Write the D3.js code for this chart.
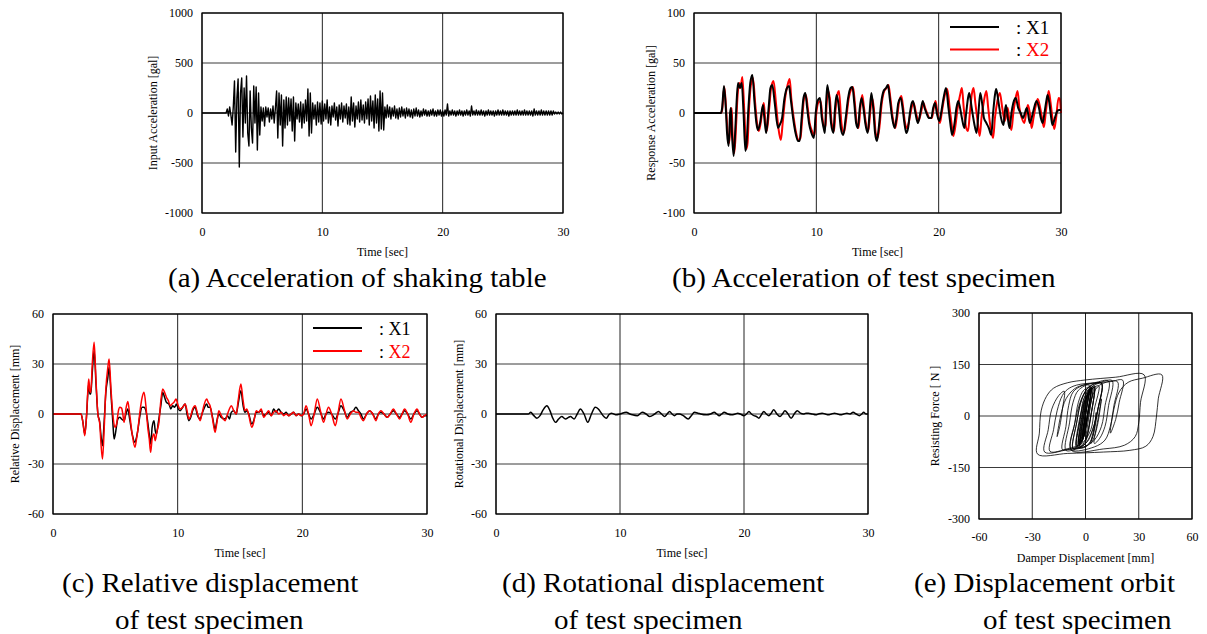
<!DOCTYPE html>
<html>
<head>
<meta charset="utf-8">
<script src="https://cdn.jsdelivr.net/npm/d3@7"></script>
<style>
body { margin: 0; background: #fff; }
svg { display: block; font-family: "Liberation Serif", "Times New Roman", serif; }
</style>
</head>
<body>
<svg id="fig" width="1207" height="634"></svg>
<script>
// (a) input acceleration [gal], sampled every 0.1 s from 2.0 s
const inputAccStart = 2.0;
const inputAccStep = 0.1;
const inputAcc = [
  0, 40, -30, 60, -20, -120, 60, 320, -390, 150,
  340, -540, 200, 350, -240, 250, -100, 370, -200, -330,
  220, -150, -300, 270, -100, 260, -370, 200, -220, 60,
  -80, 50, -130, 60, -40, 50, -90, 40, -60, 70,
  -100, 50, 220, -250, 200, -120, 180, -330, 130, -150,
  160, -120, 150, -80, 140, -180, 160, -280, 100, -60,
  90, -90, 110, -150, 90, -100, 130, -80, 240, -230,
  200, -200, 100, -60, 80, -120, 110, -90, 100, -110,
  120, -80, 90, -60, 130, -100, 60, -120, 70, -40,
  100, -70, 60, -130, 80, -60, 100, -90, 70, -50,
  90, -110, 60, -120, 160, -80, 100, -140, 70, -60,
  110, -90, 130, -70, 80, -100, 110, -60, 140, -120,
  170, -80, 120, -150, 180, -100, 140, -180, 220, -160,
  200, -170, 60, -50, 80, -40, 60, -60, 50, -30,
  70, -50, 40, -60, 50, -40, 60, -30, 40, -50,
  50, -30, 40, -40, 30, -50, 40, -30, 50, -30,
  30, -40, 20, -30, 40, -20, 30, -30, 20, -30,
  30, -20, 40, -30, 20, -30, 30, -20, 30, -30,
  20, -30, 30, -20, 90, -30, 20, -20, 30, -20,
  20, -30, 20, -20, 30, -20, 20, -30, 20, -20,
  30, -20, 20, -30, 70, -20, 20, -20, 30, -20,
  20, -20, 30, -20, 20, -30, 20, -20, 30, -20,
  20, -20, 20, -30, 20, -20, 30, -20, 20, -20,
  30, -20, 20, -20, 20, -30, 20, -20, 20, -20,
  20, -20, 30, -20, 20, -20, 20, -20, 30, -20,
  20, -20, 20, -20, 20, -30, 40, -20, 20, -20,
  20, -20, 30, -20, 20, -20, 20, -20, 20, -20,
  20, -20, 20, -10, 10, -10, 10, -10, 10, -10,
  0
];

// (b) response acceleration [gal], [time, value]
const respX1 = [[0,0],[2.2,0],[2.3,5],[2.45,27],[2.6,5],[2.7,-20],[2.83,-33],[2.95,0],[3.02,5],[3.1,-20],[3.24,-43],[3.4,-10],[3.5,15],[3.6,30],[3.75,25],[3.9,30],[4.05,0],[4.2,-38],[4.3,-30],[4.45,5],[4.6,30],[4.77,38],[4.95,10],[5.1,-10],[5.23,-17],[5.4,-10],[5.64,8],[5.75,-5],[5.9,-20],[6.1,5],[6.25,25],[6.4,28],[6.6,10],[6.87,-15],[7.0,-12],[7.2,-5],[7.4,15],[7.6,25],[7.77,27],[7.9,15],[8.1,-5],[8.3,-20],[8.5,-28],[8.64,-28],[8.8,-5],[8.95,15],[9.1,20],[9.25,5],[9.4,-10],[9.6,-20],[9.8,-25],[9.95,0],[10.1,12],[10.3,15],[10.45,-5],[10.6,-15],[10.7,-20],[10.8,10],[10.9,28],[11.05,15],[11.2,-10],[11.4,-20],[11.5,0],[11.65,18],[11.8,10],[12.0,-15],[12.2,-22],[12.4,-5],[12.6,15],[12.8,25],[12.95,26],[13.1,10],[13.25,-10],[13.4,-15],[13.55,5],[13.7,15],[13.85,5],[14.0,-10],[14.2,-20],[14.35,0],[14.5,20],[14.65,5],[14.8,-20],[14.95,-28],[15.1,-15],[15.3,10],[15.5,22],[15.7,25],[15.85,28],[16.0,15],[16.2,-5],[16.4,-15],[16.55,-5],[16.7,10],[16.9,15],[17.05,5],[17.2,-10],[17.35,-20],[17.5,-15],[17.65,0],[17.8,10],[17.9,12],[18.1,0],[18.3,-10],[18.5,0],[18.7,12],[18.85,5],[19.0,0],[19.2,-5],[19.4,-5],[19.55,5],[19.7,10],[19.85,0],[20.05,-8],[20.2,0],[20.4,15],[20.6,25],[20.8,5],[20.95,-10],[21.1,-22],[21.3,-10],[21.45,5],[21.6,12],[21.75,5],[21.9,-5],[22.1,-15],[22.25,0],[22.4,15],[22.5,20],[22.7,5],[22.9,-10],[23.1,-20],[23.25,0],[23.4,20],[23.55,10],[23.7,-5],[23.9,-10],[24.1,-15],[24.3,-22],[24.45,0],[24.6,18],[24.7,24],[24.9,10],[25.1,-5],[25.3,-12],[25.4,0],[25.5,8],[25.65,-5],[25.8,-15],[25.95,0],[26.1,10],[26.3,15],[26.5,5],[26.7,0],[26.9,-5],[27.05,0],[27.2,5],[27.3,0],[27.45,-10],[27.6,-5],[27.8,5],[28.0,12],[28.2,5],[28.35,-5],[28.5,-10],[28.65,0],[28.8,12],[28.9,18],[29.05,10],[29.2,-5],[29.3,-12],[29.5,-5],[29.7,2],[29.85,3],[30,3]];
const respX2 = [[0,0],[2.2,0],[2.3,3],[2.48,26],[2.62,5],[2.75,-20],[2.88,-30],[3.0,-5],[3.08,5],[3.15,-20],[3.3,-40],[3.45,-10],[3.55,15],[3.7,30],[3.8,25],[3.95,36],[4.1,5],[4.28,-36],[4.38,-30],[4.5,5],[4.65,28],[4.82,35],[5.0,10],[5.15,-10],[5.3,-18],[5.45,-10],[5.7,10],[5.8,-3],[5.95,-18],[6.15,5],[6.3,25],[6.5,32],[6.7,10],[6.9,-15],[7.1,-27],[7.25,-10],[7.45,15],[7.65,28],[7.82,34],[7.95,15],[8.15,-5],[8.35,-20],[8.55,-27],[8.7,-25],[8.85,-5],[9.0,15],[9.15,18],[9.3,5],[9.45,-10],[9.65,-18],[9.85,-22],[10.0,0],[10.15,10],[10.35,12],[10.5,-5],[10.65,-15],[10.75,-12],[10.85,10],[10.95,22],[11.1,15],[11.25,-10],[11.45,-18],[11.55,0],[11.75,20],[11.85,22],[12.05,-10],[12.25,-20],[12.45,-5],[12.65,15],[12.85,24],[13.0,26],[13.15,10],[13.3,-10],[13.45,-15],[13.6,5],[13.75,18],[13.9,5],[14.05,-10],[14.25,-18],[14.4,0],[14.55,15],[14.7,5],[14.85,-20],[15.0,-25],[15.15,-15],[15.35,10],[15.55,22],[15.75,25],[15.9,28],[16.05,15],[16.25,-5],[16.45,-15],[16.6,-5],[16.75,10],[16.95,17],[17.1,5],[17.25,-10],[17.4,-15],[17.55,-10],[17.7,0],[17.85,8],[17.95,10],[18.15,0],[18.35,-8],[18.55,0],[18.75,10],[18.9,5],[19.05,0],[19.25,-5],[19.45,-5],[19.6,5],[19.75,12],[19.9,0],[20.1,-10],[20.25,0],[20.45,15],[20.7,24],[20.9,5],[21.05,-10],[21.2,-23],[21.4,-10],[21.55,5],[21.75,18],[21.9,25],[22.05,5],[22.25,-15],[22.4,-18],[22.55,0],[22.7,18],[22.85,25],[23.0,10],[23.2,-10],[23.35,-23],[23.5,-5],[23.7,12],[23.9,22],[24.05,5],[24.25,-15],[24.45,-25],[24.6,-5],[24.8,12],[25.0,20],[25.2,5],[25.4,-8],[25.55,0],[25.65,5],[25.8,-10],[25.95,-17],[26.1,0],[26.25,12],[26.45,22],[26.6,5],[26.8,-5],[27.0,-10],[27.15,0],[27.3,8],[27.45,0],[27.6,-15],[27.75,-5],[27.95,8],[28.1,14],[28.3,5],[28.45,-5],[28.6,-14],[28.75,0],[28.9,15],[29.0,22],[29.15,10],[29.3,-5],[29.45,-16],[29.6,-5],[29.8,15],[29.9,14],[30,0]];

// (c) relative displacement [mm], [time, value]
const relX1 = [[0,0],[2.25,0],[2.4,-5],[2.55,-12],[2.7,0],[2.8,13],[2.87,18],[2.95,12],[3.03,12],[3.15,25],[3.3,38],[3.45,18],[3.6,0],[3.75,-5],[3.85,-13],[3.97,-19],[4.1,-5],[4.24,13],[4.4,22],[4.5,28],[4.65,12],[4.8,-5],[4.9,-15],[5.0,-12],[5.2,-3],[5.36,-2],[5.5,-3],[5.7,-4],[5.85,0],[6.0,3],[6.15,-3],[6.35,-12],[6.57,-17],[6.7,-14],[6.8,-10],[6.95,-2],[7.15,4],[7.3,4],[7.45,2],[7.6,-5],[7.72,-12],[7.85,-18],[7.95,-8],[8.1,-4],[8.2,-10],[8.3,-12],[8.45,-5],[8.65,5],[8.8,13],[8.95,10],[9.1,7],[9.3,6],[9.45,3],[9.6,5],[9.75,4],[9.9,6],[10.05,3],[10.2,2],[10.4,4],[10.6,6],[10.75,0],[10.9,-4],[11.05,-2],[11.2,2],[11.4,4],[11.6,-1],[11.8,-3],[11.95,0],[12.1,3],[12.33,6],[12.45,4],[12.6,4],[12.8,-2],[13.0,-9],[13.15,-4],[13.3,0],[13.5,-2],[13.8,-3],[14.0,-1],[14.15,-3],[14.3,1],[14.5,2],[14.7,0],[14.85,6],[15.07,14],[15.25,5],[15.4,1],[15.55,2],[15.7,0],[15.95,-6],[16.1,-4],[16.3,1],[16.5,1],[16.7,2],[16.9,-1],[17.1,0],[17.3,1],[17.5,-1],[17.7,3],[17.9,1],[18.1,3],[18.3,1],[18.5,0],[18.7,1],[18.9,-1],[19.1,0],[19.3,1],[19.5,-1],[19.7,0],[19.9,-1],[20.1,0],[20.3,3],[20.5,0],[20.7,-3],[20.95,0],[21.2,4],[21.45,1],[21.7,-3],[21.9,0],[22.1,1],[22.35,0],[22.65,-3],[22.85,0],[23.1,5],[23.35,2],[23.6,-2],[23.85,1],[24.1,2],[24.3,4],[24.5,2],[24.7,0],[24.9,-3],[25.15,0],[25.4,2],[25.65,0],[25.9,-3],[26.1,0],[26.3,1],[26.55,0],[26.8,-2],[27.05,0],[27.3,2],[27.55,0],[27.8,-2],[28.0,0],[28.2,2],[28.45,0],[28.7,-3],[28.95,0],[29.2,2],[29.4,0],[29.6,-2],[29.8,-1],[30,-1]];
const relX2 = [[0,0],[2.25,0],[2.4,-5],[2.55,-13],[2.7,0],[2.8,15],[2.87,21],[2.95,14],[3.03,13],[3.15,30],[3.3,43],[3.45,20],[3.6,0],[3.75,-6],[3.85,-18],[3.97,-27],[4.1,-10],[4.24,15],[4.4,28],[4.5,33],[4.65,15],[4.8,0],[4.96,-8],[5.1,-6],[5.25,2],[5.36,4],[5.5,3.5],[5.6,0],[5.7,-5],[5.85,3],[6.0,7.5],[6.15,0],[6.35,-12],[6.57,-20],[6.7,-15],[6.8,-10],[6.95,0],[7.15,10],[7.3,13],[7.45,5],[7.6,-8],[7.72,-15],[7.83,-23],[7.95,-15],[8.1,-12],[8.2,-16],[8.35,-10],[8.5,-5],[8.65,8],[8.8,15],[8.95,13],[9.1,10],[9.25,8],[9.4,5],[9.55,6],[9.7,7],[9.87,9],[10.0,6],[10.2,3],[10.4,4],[10.6,6],[10.75,2],[10.9,-3],[11.05,-1],[11.2,3],[11.4,5],[11.6,0],[11.8,-4],[11.95,0],[12.1,5],[12.33,9],[12.45,7],[12.6,5],[12.8,-3],[13.0,-11],[13.15,-5],[13.3,2],[13.5,-1],[13.8,-4],[14.0,0],[14.15,3],[14.3,5],[14.5,2],[14.7,0],[14.85,8],[15.07,18],[15.25,8],[15.4,2],[15.55,3],[15.65,1],[15.95,-8],[16.1,-5],[16.3,2],[16.5,1],[16.7,3],[16.9,-2],[17.1,0],[17.3,2],[17.5,-1],[17.7,1],[17.9,2],[18.1,0],[18.3,1],[18.5,-1],[18.7,0],[18.9,-1],[19.1,0],[19.3,1],[19.5,-1],[19.7,0],[19.9,-1],[20.1,0],[20.3,5],[20.5,0],[20.7,-7],[20.95,0],[21.2,9],[21.45,2],[21.7,-5],[21.9,0],[22.1,4],[22.35,0],[22.65,-7],[22.85,0],[23.1,9],[23.35,3],[23.6,-3],[23.85,0],[24.1,2],[24.3,1],[24.5,1],[24.7,-2],[24.9,-4],[25.15,0],[25.4,2],[25.65,0],[25.9,-4],[26.1,0],[26.3,2],[26.55,0],[26.8,-2],[27.05,0],[27.3,3],[27.55,0],[27.8,-3],[28.0,0],[28.2,3],[28.45,0],[28.7,-5],[28.95,0],[29.2,3],[29.4,0],[29.6,-2],[29.8,-1],[30,0]];

// (d) rotational displacement [mm], [time, value]
const rotDisp = [[0,0],[2.6,0],[2.8,1],[3.05,-1],[3.3,-2.5],[3.55,-1],[3.8,2.5],[4.1,5],[4.35,2],[4.55,-2],[4.8,-5],[5.05,-3],[5.3,-1.5],[5.6,-3],[5.85,-2],[6.0,-1.5],[6.3,-3],[6.55,0],[6.8,3],[7.1,0],[7.4,-5],[7.7,0],[8.0,4],[8.25,3],[8.45,1],[8.7,-1.5],[8.9,-2.5],[9.1,-0.5],[9.3,0.5],[9.5,0],[9.7,-0.5],[10.0,0],[10.5,1],[10.8,0],[11.0,-0.5],[11.4,-1],[11.8,1],[12.1,0],[12.4,-1.5],[12.8,0],[13.1,1.5],[13.35,0],[13.6,-1.5],[13.8,0],[14.0,1.5],[14.2,0],[14.4,-1],[14.6,0],[14.8,0],[15.1,-1],[15.5,-3],[15.75,-1],[16.0,1],[16.3,0.5],[16.5,0],[17.0,-0.5],[17.3,0],[17.6,1],[17.8,0],[18.0,-1],[18.2,0],[18.4,1],[18.7,0],[19.0,-0.5],[19.3,0],[19.5,0.5],[19.7,0],[20.0,-1],[20.2,0],[20.4,1.5],[20.6,0],[20.8,-1],[21.0,-1.5],[21.2,-2.5],[21.4,-0.5],[21.6,1.5],[21.8,0],[22.0,-1],[22.2,0.5],[22.4,2.5],[22.65,0],[22.9,-1.5],[23.1,0],[23.3,2],[23.55,0],[23.8,-2.5],[24.05,0],[24.3,2],[24.55,0.5],[24.8,0],[25.0,0.5],[25.2,0.5],[25.5,0],[25.8,-0.5],[26.0,0],[26.3,0.5],[26.55,0],[26.8,-0.5],[27.05,0],[27.3,0.5],[27.55,0],[27.8,-0.5],[28.05,0],[28.3,0.5],[28.55,0],[28.8,1],[29.05,0],[29.3,-1],[29.5,0],[29.65,1],[29.85,0],[30,0]];

// (e) damper displacement [mm] vs resisting force [N]
const orbit = [
  [0,0],[-2,-70],[-5,-90],[-9,-96],[-13,-98],
  [-11,-30],[-9.5,30],[-7,70],[-2,88],[6,96],[14,100],[21,104],
  [19,40],[17,-10],[14,-50],
  [16,20],[19,70],[24,98],[32,110],[43,120],
  [41,50],[40,0],[38,-60],[34,-88],[25,-100],[10,-105],[-10,-109],[-27,-111],
  [-26,-50],[-25,15],[-22,57],[-18,81],[-10,97],[0,105],[17,113],[33,120],
  [31,40],[30,-20],[28,-60],[22,-85],[10,-96],[-8,-100],
  [-6,-20],[-3,40],[0,70],[4,80],
  [2,20],[0,-30],[-2,-70],[-5,-85],
  [-3,0],[0,50],[4,80],[7.5,88],
  [5,20],[3,-40],[-2,-80],[-10,-95],[-20,-103],
  [-18,-40],[-16,15],[-13,60],[-10,78],
  [-5,90],[5,97],[13,102],
  [11,30],[9,-30],[5,-70],[0,-88],[-10,-98],[-23,-105],
  [-21,-40],[-19,20],[-15,60],[-12,72],
  [-13,20],[-14.5,-30],[-16,-60],
  [-14,0],[-11,50],[-6,80],[0,92],[8,98],[15,103],
  [13,30],[11,-30],[8,-65],[5,-80],
  [7,-10],[9,50],
  [7,-20],[5,-60],[3,-80],
  [5,-30],[6,10],
  [4,-60],[1,-85],[-3,-92],
  [-1,-20],[1,50],[3,80],[5,88],
  [3,0],[1,-60],[-1,-85],[-4,-92],
  [-2,-20],[0,50],[3,82],[9,95],
  [7,20],[5,-40],
  [3,-75],[0,-90],[-5,-96],[-11,-100],
  [-9,-20],[-7,40],[-4,75],[2,90],
  [0,10],[-2,-50],[-4,-75],
  [-2,0],[0,50],[5,85],
  [3,0],[0,-70],
  [2,0],[4,60],[8,90],[18,100],
  [16,30],[14,-30],[11,-70],[5,-90],[-8,-98],
  [-6,-20],[-4,40],[-1,75],[3,85],
  [1,0],[-1,-60],[-3,-80],
  [-1,0],[1,60],[3,80],
  [1,0],[-1,-60],[-2,-75],
  [0,0],[2,60],[5,85],
  [3,0],[0,-70],[-3,-90],[-7,-95],
  [-5,-20],[-2,50],[2,85],[9,95],
  [7,20],[4,-40],[1,-75],[-5,-92],
  [-3,-10],[0,60],[4,85],
  [2,10],[-1,-60],[-3,-85],[-7,-95],
  [-5,-20],[-2,50],[2,85],[9,96],
  [7,20],[4,-40],[0,-80],[-3,-88],
  [-1,0],[2,70],
  [0,0],[-2,-60],[-4,-82],
  [-2,-10],[0,40],[2,70],
  [0,0],[-2,-60],[-4,-80],
  [-2,0],[0,50],[3,80],
  [1,0],[-1,-60],[-3,-80],
  [-1,0],[1,60],[3,82],
  [1,0],[-1,-60],[-5,-88],
  [-3,-10],[-1,50],[3,85],
  [1,0],[-2,-65],[0,0]
];

const timeTicks = [0, 10, 20, 30];
const accTicksA = [-1000, -500, 0, 500, 1000];
const accTicksB = [-100, -50, 0, 50, 100];
const dispTicks = [-60, -30, 0, 30, 60];
const forceTicks = [-300, -150, 0, 150, 300];

const svg = d3.select("#fig");
const serif = '"Liberation Serif", "Times New Roman", serif';
const plain = d => String(d);   // hyphen minus, no thousands comma

function panel(p) {
    const x = d3.scaleLinear().domain(p.xDomain).range([p.left, p.right]);
    const y = d3.scaleLinear().domain(p.yDomain).range([p.bottom, p.top]);
    const g = svg.append("g");

    g.selectAll(".hgrid").data(p.yTicks).enter().append("line")
        .attr("x1", p.left).attr("x2", p.right)
        .attr("y1", d => y(d)).attr("y2", d => y(d))
        .attr("stroke", "#3a3a3a").attr("stroke-width", 1);
    g.selectAll(".vgrid").data(p.xTicks).enter().append("line")
        .attr("x1", d => x(d)).attr("x2", d => x(d))
        .attr("y1", p.top).attr("y2", p.bottom)
        .attr("stroke", "#222").attr("stroke-width", 1);

    g.append("g")
        .attr("transform", `translate(${p.left - 9},0)`)
        .call(d3.axisLeft(y).tickValues(p.yTicks).tickFormat(plain).tickSize(0).tickPadding(0))
        .call(a => a.select(".domain").remove())
        .attr("font-family", serif).attr("font-size", 12);
    g.append("g")
        .attr("transform", `translate(0,${p.bottom})`)
        .call(d3.axisBottom(x).tickValues(p.xTicks).tickFormat(plain).tickSize(0).tickPadding(p.xPad || 14))
        .call(a => a.select(".domain").remove())
        .attr("font-family", serif).attr("font-size", 12);

    g.append("text")
        .attr("x", (p.left + p.right) / 2).attr("y", p.bottom + 43)
        .attr("text-anchor", "middle").attr("font-size", 12)
        .text(p.xTitle);
    g.append("text")
        .attr("transform", `translate(${p.yTitleX},${(p.top + p.bottom) / 2}) rotate(-90)`)
        .attr("text-anchor", "middle").attr("dy", "0.35em").attr("font-size", 12)
        .text(p.yTitle);

    p.series.forEach(s => {
        const line = d3.line()
            .x(d => x(d[0])).y(d => y(d[1]))
            .curve(s.curve || d3.curveLinear);
        g.append("path")
            .datum(s.data)
            .attr("fill", "none")
            .attr("stroke", s.color)
            .attr("stroke-width", s.width)
            .attr("stroke-linejoin", "round")
            .attr("d", line);
    });

    g.append("rect")
        .attr("x", p.left).attr("y", p.top)
        .attr("width", p.right - p.left).attr("height", p.bottom - p.top)
        .attr("fill", "none").attr("stroke", "#000").attr("stroke-width", 1.2);

    if (p.legend) {
        const lg = p.legend;
        lg.items.forEach((it, i) => {
            const ly = lg.y + i * lg.gap;
            g.append("line")
                .attr("x1", lg.x).attr("x2", lg.x + 49)
                .attr("y1", ly).attr("y2", ly)
                .attr("stroke", it.color).attr("stroke-width", 2);
            const t = g.append("text")
                .attr("x", lg.x + 66).attr("y", ly + 6.5)
                .attr("font-size", lg.size);
            t.append("tspan").attr("fill", "#000").text(": ");
            t.append("tspan").attr("fill", it.color).text(it.label);
        });
    }
}

const accSeries = inputAcc.map((v, i) => [inputAccStart + i * inputAccStep, v]);
accSeries.unshift([0, 0]);

panel({
    left: 202, right: 563, top: 13, bottom: 213,
    xDomain: [0, 30], yDomain: [-1000, 1000],
    xTicks: timeTicks, yTicks: accTicksA,
    xTitle: "Time [sec]", yTitle: "Input Acceleration [gal]", yTitleX: 153,
    series: [{ data: accSeries, color: "#000", width: 1.4 }]
});

panel({
    left: 694, right: 1061, top: 13, bottom: 213,
    xDomain: [0, 30], yDomain: [-100, 100],
    xTicks: timeTicks, yTicks: accTicksB,
    xTitle: "Time [sec]", yTitle: "Response Acceleration [gal]", yTitleX: 651,
    series: [
        { data: respX2, color: "#ff0000", width: 2, curve: d3.curveMonotoneX },
        { data: respX1, color: "#000", width: 2, curve: d3.curveMonotoneX }
    ],
    legend: { x: 950, y: 27, gap: 22.5, size: 19,
        items: [{ label: "X1", color: "#000" }, { label: "X2", color: "#ff0000" }] }
});

panel({
    left: 53, right: 427, top: 314, bottom: 514,
    xDomain: [0, 30], yDomain: [-60, 60],
    xTicks: timeTicks, yTicks: dispTicks,
    xTitle: "Time [sec]", yTitle: "Relative Displacement [mm]", yTitleX: 15,
    series: [
        { data: relX1, color: "#000", width: 1.5, curve: d3.curveMonotoneX },
        { data: relX2, color: "#ff0000", width: 1.5, curve: d3.curveMonotoneX }
    ],
    legend: { x: 313, y: 328, gap: 23, size: 18,
        items: [{ label: "X1", color: "#000" }, { label: "X2", color: "#ff0000" }] }
});

panel({
    left: 496, right: 868, top: 314, bottom: 514,
    xDomain: [0, 30], yDomain: [-60, 60],
    xTicks: timeTicks, yTicks: dispTicks,
    xTitle: "Time [sec]", yTitle: "Rotational Displacement [mm]", yTitleX: 459,
    series: [{ data: rotDisp, color: "#000", width: 1.5, curve: d3.curveMonotoneX }]
});

panel({
    left: 979, right: 1192, top: 313, bottom: 519,
    xDomain: [-60, 60], yDomain: [-300, 300],
    xTicks: dispTicks, yTicks: forceTicks, xPad: 13,
    xTitle: "Damper Displacement [mm]", yTitle: "Resisting Force [ N ]", yTitleX: 935,
    series: [{ data: orbit, color: "#000", width: 0.8, curve: d3.curveCatmullRom.alpha(0.5) }]
});

// captions
const captions = [
    { text: "(a) Acceleration of shaking table", x: 168, y: 287 },
    { text: "(b) Acceleration of test specimen", x: 672, y: 287 },
    { text: "(c) Relative displacement", x: 62, y: 592 },
    { text: "of test specimen", x: 115, y: 629 },
    { text: "(d) Rotational displacement", x: 502, y: 592 },
    { text: "of test specimen", x: 554, y: 629 },
    { text: "(e) Displacement orbit", x: 914, y: 592 },
    { text: "of test specimen", x: 983, y: 629 }
];
svg.selectAll(".caption").data(captions).enter().append("text")
    .attr("class", "caption")
    .attr("transform", d => `translate(${d.x},${d.y}) scale(1.075,1)`)
    .attr("font-size", 27)
    .attr("fill", "#000")
    .text(d => d.text);
</script>
</body>
</html>
